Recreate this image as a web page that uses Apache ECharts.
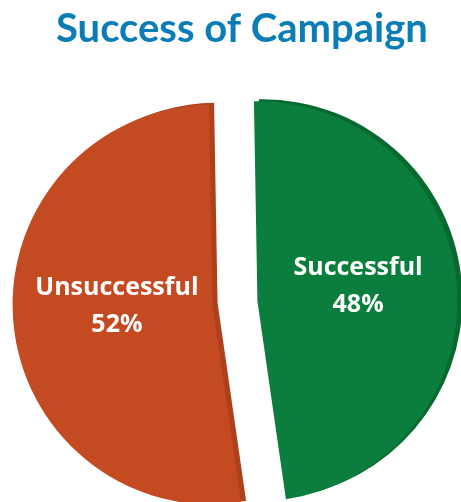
<!DOCTYPE html>
<html>
<head>
<meta charset="utf-8">
<script src="https://cdn.jsdelivr.net/npm/echarts@6/dist/echarts.min.js"></script>
<style>
  html, body { margin: 0; padding: 0; background: #ffffff; }
  #chart { width: 461px; height: 502px; }
</style>
</head>
<body>
<div id="chart"></div>
<script>
// Campaign outcome shares (percent)
const categories = ['Successful', 'Unsuccessful'];
const shares = [48, 52];
const faceColors = ['#0b7e3d', '#c44a21'];
const sideColors = ['#08692f', '#ad411c'];
// horizontal nudges for the in-slice labels: [top, right, bottom, left] padding
const labelPads = [[0, 4, 0, 0], [0, 0, 0, 14]];

const chart = echarts.init(document.getElementById('chart'));

function slices(colors, withLabels) {
  return categories.map((name, i) => ({
    name: name,
    value: shares[i],
    selected: true,
    itemStyle: { color: colors[i] },
    label: withLabels ? { show: true, padding: labelPads[i] } : { show: false }
  }));
}

const common = {
  type: 'pie',
  radius: 200,
  startAngle: 91,
  clockwise: true,
  selectedMode: 'multiple',
  selectedOffset: 22.5,
  avoidLabelOverlap: false,
  labelLine: { show: false },
  emphasis: { disabled: true },
  animation: false
};

chart.setOption({
  backgroundColor: '#ffffff',
  title: {
    text: 'Success of Campaign',
    left: 51,
    top: 4,
    textStyle: {
      color: '#0b7db6',
      fontFamily: 'Lato',
      fontWeight: 'bold',
      fontSize: 40
    }
  },
  series: [
    // darker side wall peeking out behind each slice
    Object.assign({}, common, {
      name: 'side',
      center: [240, 301],
      silent: true,
      z: 1,
      data: slices(sideColors, false)
    }),
    // top face of each slice
    Object.assign({}, common, {
      name: 'Success of Campaign',
      center: [235, 303],
      z: 2,
      label: {
        show: true,
        position: 'inside',
        // trailing empty line lifts the two text lines a little
        formatter: '{t|{b}}\n{t|{c}%}\n{gap|}',
        color: '#ffffff',
        fontFamily: 'Open Sans',
        fontWeight: 'bold',
        fontSize: 25,
        lineHeight: 37,
        rich: {
          t: {
            color: '#ffffff',
            fontFamily: 'Open Sans',
            fontWeight: 'bold',
            fontSize: 25,
            lineHeight: 37
          },
          gap: { fontSize: 1, lineHeight: 13, height: 13 }
        }
      },
      data: slices(faceColors, true)
    })
  ]
});
</script>
</body>
</html>
